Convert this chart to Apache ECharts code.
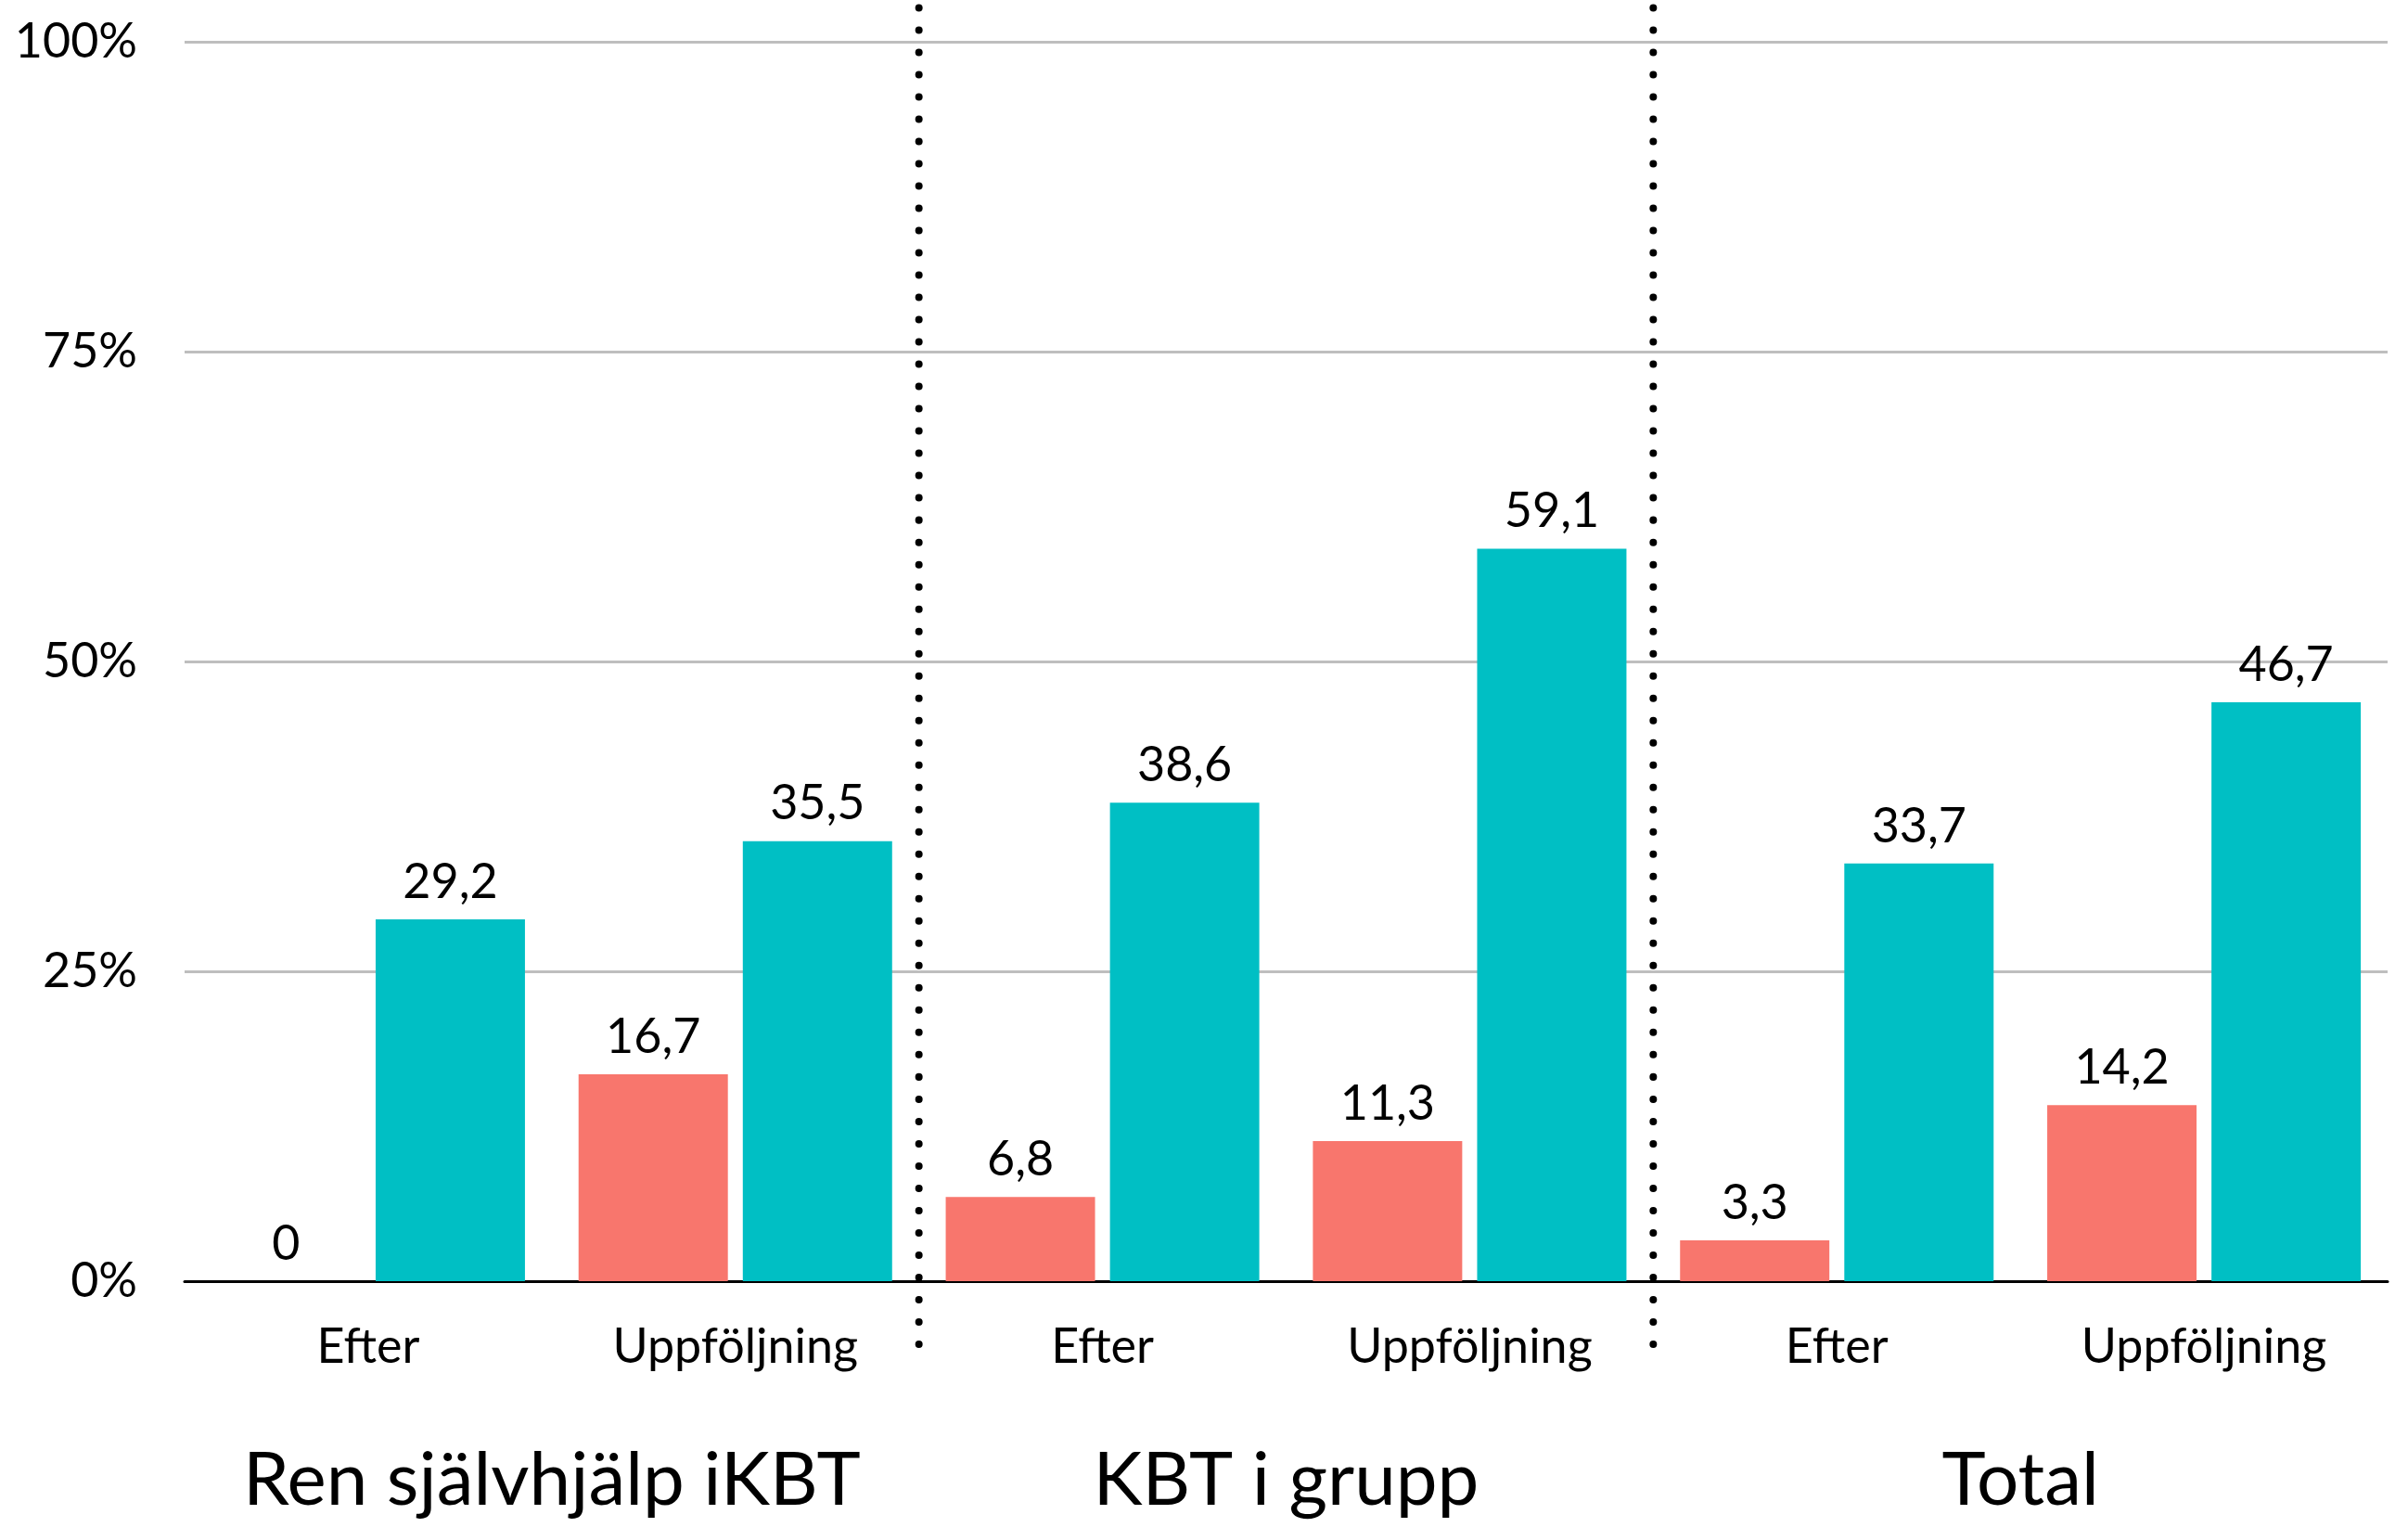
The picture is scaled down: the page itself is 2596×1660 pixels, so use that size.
<!DOCTYPE html>
<html>
<head>
<meta charset="utf-8">
<title>Andel förbättrade per behandling</title>
<script src="https://cdn.jsdelivr.net/npm/echarts@6/dist/echarts.min.js"></script>
<style>
  html, body { margin: 0; padding: 0; background: #ffffff; }
  #chart { width: 2596px; height: 1660px; }
</style>
</head>
<body>
<div id="chart"></div>
<script>
// Measurement points, repeated for each treatment group
const timepoints = ['Efter', 'Uppföljning', 'Efter', 'Uppföljning', 'Efter', 'Uppföljning'];
// Treatment groups, each covering two timepoints
const groups = ['Ren självhjälp iKBT', 'KBT i grupp', 'Total'];
// Percent values per bar pair
const redValues = [0, 16.7, 6.8, 11.3, 3.3, 14.2];
const tealValues = [29.2, 35.5, 38.6, 59.1, 33.7, 46.7];
// Y-axis ticks
const yTicks = [0, 25, 50, 75, 100];
// Boundaries between treatment groups, in timepoint units
const dividers = [2, 4];

const FONT = 'Lato, "Noto Sans", sans-serif';
const chart = echarts.init(document.getElementById('chart'), null, { renderer: 'canvas' });

const fmt = p => String(p.value).replace('.', ',');

const barLabel = {
  show: true,
  position: 'top',
  distance: 14,
  color: '#000000',
  fontFamily: FONT,
  fontSize: 52,
  formatter: fmt
};

const dividerSeries = dividers.map(x => ({
  type: 'line',
  xAxisIndex: 2,
  yAxisIndex: 1,
  data: [[x, 0], [x, 1]],
  symbol: 'none',
  silent: true,
  z: 5,
  lineStyle: { color: '#000000', width: 8, type: [0.01, 24], cap: 'round' }
}));

chart.setOption({
  animation: false,
  backgroundColor: '#ffffff',
  grid: [
    { left: 199, right: 22, top: 45, bottom: 279 },
    { left: 199, right: 22, top: 4, bottom: 211 }
  ],
  xAxis: [
    {
      type: 'category',
      gridIndex: 0,
      data: timepoints,
      position: 'bottom',
      axisLine: { show: true, lineStyle: { color: '#000000', width: 3 } },
      axisTick: { show: false },
      axisLabel: { interval: 0, color: '#000000', fontFamily: FONT, fontSize: 52, lineHeight: 52, margin: 45 },
      splitLine: { show: false }
    },
    {
      type: 'category',
      gridIndex: 0,
      data: groups,
      position: 'bottom',
      offset: 0,
      axisLine: { show: false },
      axisTick: { show: false },
      axisLabel: { interval: 0, color: '#000000', fontFamily: FONT, fontSize: 80, lineHeight: 80, margin: 175 },
      splitLine: { show: false }
    },
    {
      type: 'value',
      gridIndex: 1,
      min: 0,
      max: timepoints.length,
      show: false
    }
  ],
  yAxis: [
    {
      type: 'value',
      gridIndex: 0,
      min: yTicks[0],
      max: yTicks[yTicks.length - 1],
      interval: yTicks[1] - yTicks[0],
      axisLine: { show: false },
      axisTick: { show: false },
      axisLabel: { color: '#000000', fontFamily: FONT, fontSize: 52, margin: 51, formatter: '{value}%' },
      splitLine: { show: true, lineStyle: { color: '#bebebe', width: 3 } }
    },
    {
      type: 'value',
      gridIndex: 1,
      min: 0,
      max: 1,
      show: false
    }
  ],
  series: [
    {
      type: 'bar',
      xAxisIndex: 0,
      yAxisIndex: 0,
      data: redValues,
      itemStyle: { color: '#F8766D' },
      barGap: '10%',
      barCategoryGap: '14.6%',
      label: barLabel
    },
    {
      type: 'bar',
      xAxisIndex: 0,
      yAxisIndex: 0,
      data: tealValues,
      itemStyle: { color: '#00BFC4' },
      label: barLabel
    },
    ...dividerSeries
  ]
});
</script>
</body>
</html>
